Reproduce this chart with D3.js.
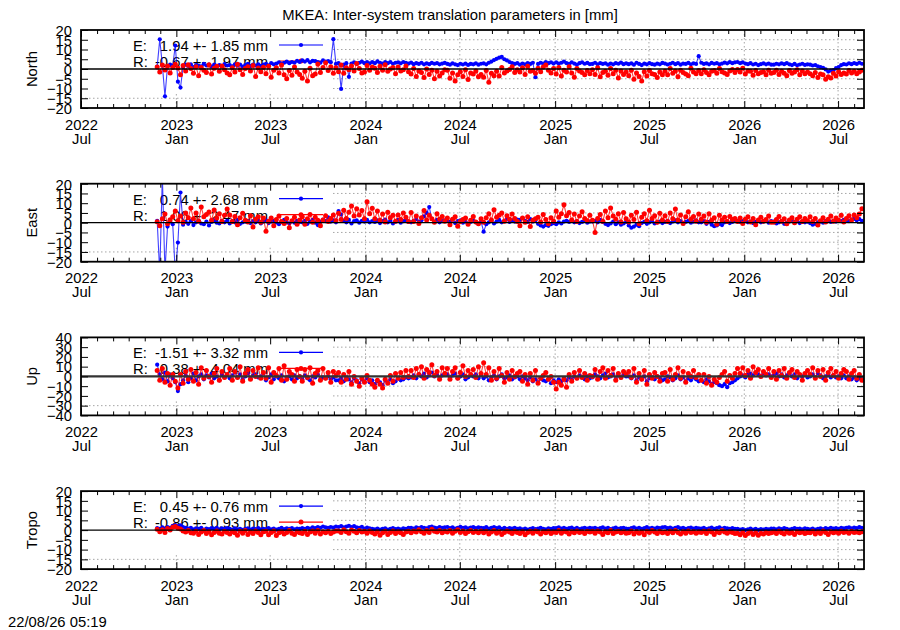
<!DOCTYPE html>
<html>
<head>
<meta charset="utf-8">
<script src="https://cdn.jsdelivr.net/npm/d3@7"></script>
<style>
    body { margin: 0; background: #fff; }
    svg text { font-family: "Liberation Sans", Arial, Helvetica, sans-serif; font-size: 14.8px; fill: #000; }
</style>
</head>
<body>
<div id="chart"></div>
<script>

// One solution every 5 days, first epoch below
const firstEpoch = "2022-11-25";
const stepDays = 5;
const xDomain = ["2022-07-01", "2026-08-20"];

// North [mm]
const northE = [
    1.2, 15.2, 2.0, -14.0, 1.5, 2.2, 1.8, 12.0, -6.5, -9.5, 1.0, 2.2, 1.6, 2.4,
    1.0, 2.0, 1.6, 1.4, 2.6, 1.8, 2.2, 1.2, 2.2, 1.6, 2.0, 1.4, 2.5, 1.8,
    2.0, 1.4, 2.4, 1.7, 2.2, 1.2, 2.0, 2.6, 1.5, 2.2, 1.8, 2.4, 1.6, 2.2,
    2.6, 1.9, 3.0, 2.4, 2.8, 3.4, 2.8, 3.2, 3.8, 3.0, 3.6, 3.2, 4.2, 3.6,
    4.4, 3.8, 4.6, 3.4, 4.2, 4.0, 3.6, 3.2, 4.4, 3.8, 4.0, 3.5, 15.3, 2.6,
    3.0, -10.2, 2.2, 3.0, -4.0, 2.8, 3.4, 2.6, 3.2, 3.8, 3.0, 3.5, 2.9, 3.6,
    3.0, 3.9, 3.2, 2.8, 3.5, 3.0, 3.6, 2.7, 3.2, 3.4, 2.9, 3.6, 3.1, 2.8,
    3.3, 2.5, 3.0, 2.6, 3.2, 2.4, 2.9, 2.5, 3.1, 2.7, 3.0, 2.4, 2.8, 3.1,
    2.6, 2.2, 2.9, 2.4, 2.0, 2.7, 2.3, 2.8, 2.1, 2.6, 2.4, 2.9, 2.2, 2.7,
    2.9, 2.4, 3.2, 3.8, 4.6, 5.2, 5.8, 6.2, 5.0, 4.4, 3.6, 3.0, 2.6, 3.0,
    2.2, 2.8, 2.4, 3.0, 2.6, 3.2, -4.2, 2.6, 3.2, 2.8, 3.6, 3.0, 3.4, 2.8,
    3.4, 2.8, 3.2, 3.8, 3.0, 2.6, 3.4, 2.8, 2.2, 3.0, 3.4, 2.7, 3.1, 2.5,
    2.6, 3.2, 2.4, 3.0, 2.6, 2.9, 2.2, 2.8, 2.4, 3.0, 2.7, 3.3, 2.5, 2.9,
    2.5, 2.9, 2.2, 3.2, 2.6, 2.0, 2.8, 2.4, 3.0, 2.5, 2.2, 2.8, 2.4, 3.1,
    2.8, 2.3, 2.7, 3.2, 2.5, 3.0, 2.2, 2.8, 2.6, 3.1, 2.4, 2.9, 2.6, 6.6,
    3.2, 2.6, 2.9, 2.4, 3.1, 2.7, 3.0, 2.4, 2.8, 3.3, 2.9, 3.5, 3.0, 3.4,
    3.6, 3.0, 3.4, 2.8, 2.5, 3.0, 2.3, 2.7, 2.0, 2.5, 2.9, 2.4, 2.8, 2.2,
    2.2, 2.7, 2.4, 2.9, 2.5, 3.0, 2.4, 2.0, 2.6, 1.9, 2.3, 2.7, 2.1, 2.4,
    2.2, 1.8, 2.0, 1.4, 1.0, 0.6, -0.2, -1.3, -0.8, -0.6, 0.4, 1.0, 2.0, 2.5,
    2.3, 2.9, 2.5, 3.0, 2.6, 3.2, 2.7
];
const northR = [
    1.0, -1.5, 2.0, -0.5, 1.5, -2.0, 0.8, 2.5, 0.5, -3.0, 1.8, -1.0, 2.2, 0.2,
    -2.2, 1.2, -3.5, 0.8, -0.6, -1.8, 2.2, -2.6, 0.4, 1.4, -1.2, 1.6, -0.4, -2.0,
    -3.0, 0.6, -1.6, 2.4, -0.4, -2.8, 0.2, 1.2, -1.0, 1.8, -3.8, 0.5, -1.4, 0.9,
    -2.4, 1.4, -4.2, -0.6, 0.6, -2.0, 2.0, -3.0, -5.0, -0.8, -3.2, 1.0, -1.6, -2.8,
    -4.8, -1.2, -6.2, 0.4, -3.4, -2.6, 2.6, -1.8, 0.8, 3.2, -0.8, 1.2, -2.2, 0.6,
    -1.4, 2.0, -2.2, 0.6, -0.4, 1.6, -1.0, 2.8, 0.2, -2.0, -1.6, 1.8, -0.6, 1.0,
    0.4, -1.8, 1.4, -0.6, 2.2, -1.2, 0.0, 0.8, -2.4, 1.0, -1.0, -0.4, 1.6, -1.4,
    -2.6, 0.2, -3.8, -1.0, -1.8, -4.4, 0.0, -2.8, -0.6, -5.0, -1.2, -3.6, -2.0, -0.4,
    -0.6, -4.8, -2.0, -6.2, -3.0, -1.4, -3.8, -0.4, -5.4, -2.0, -2.6, -1.0, -4.0, -2.8,
    -4.2, -0.8, -6.8, -2.2, -3.4, -1.2, -3.6, 0.8, -2.0, -1.0, -0.2, 1.2, -1.8, -0.4,
    -1.6, 0.6, -2.8, 1.4, -1.2, -0.8, -2.2, 0.4, -1.4, 1.0, 2.0, -0.6, -2.0, 0.2,
    -2.6, 0.8, -3.6, -0.6, -1.6, 1.2, -2.0, -4.2, 0.2, -1.0, -1.8, -3.0, -0.8, -2.4,
    -0.4, -2.8, 0.6, -4.0, -1.8, -1.2, -3.2, 0.2, -2.4, -0.6, -4.6, -1.0, -2.8, -1.6,
    -3.4, -0.6, -5.2, -2.0, -3.8, -6.2, -1.4, -3.6, -0.8, -2.4, -2.8, -4.4, -1.6, -3.0,
    -1.2, -3.0, 0.2, -2.2, -1.0, -4.0, -0.6, -1.8, -2.6, -3.4, 0.4, -1.6, -2.4, -0.8,
    -2.4, -0.4, -1.8, -3.0, -1.2, -0.8, -2.2, 0.2, -1.4, -2.0, -2.8, -1.0, -0.2, -1.8,
    -0.2, -1.6, 0.4, -2.6, -1.0, -1.2, -3.2, -0.8, -2.4, -1.8, -1.4, -3.0, -0.6, -2.2,
    -1.8, -0.6, -2.8, -1.2, -2.2, -3.4, -0.8, -2.2, -1.6, -0.4, -3.0, -1.0, -2.4, -1.6,
    -2.4, -3.4, -1.8, -4.4, -2.6, -3.0, -5.2, -4.0, -4.6, -2.2, -3.6, -1.4, -2.8, -2.0,
    -2.6, -0.8, -2.0, -1.2, -2.4, -1.6, -0.6
];

// East [mm]
const eastE = [
    1.0, -26, 24, -25, -2.0, 0.6, -0.8, -26, -10.2, 15.5, -1.0, 0.4, -0.6, 0.8,
    -1.2, 0.2, 1.0, -0.4, -0.8, 0.6, -1.4, 0.4, 1.2, 0.0, -0.4, 0.8, 0.2, 1.0,
    -0.4, 0.8, 0.2, 1.4, -0.6, 0.2, 0.6, 1.0, -0.2, 0.8, 0.2, 1.2, -0.4, 0.6,
    1.2, -0.2, 0.6, 1.0, 0.2, -0.8, 0.4, 1.4, 0.2, -0.4, 0.8, 0.0, 1.0, 0.4,
    0.2, 1.0, -0.6, 0.6, 1.4, 0.0, -1.2, 0.4, 1.6, 0.8, 2.8, 0.6, 1.2, 0.2,
    6.0, 4.2, 1.0, 0.2, 1.4, -0.4, 0.8, 1.2, 0.0, 1.0, 0.6, 1.4, 0.2, 0.8,
    0.4, 1.2, -0.2, 0.8, 1.6, 0.2, 1.0, -0.4, 0.6, 1.4, 0.0, 0.8, 1.2, 0.4,
    0.2, 1.0, 1.8, 0.4, 1.2, 3.2, 5.0, 8.0, 2.0, 0.6, 1.4, 0.2, 0.8, 1.2,
    1.0, 0.4, 1.6, -0.2, 0.8, 1.2, 0.0, 0.6, -0.6, 0.4, 1.0, 0.2, -0.4, 0.6,
    -4.6, -0.8, 0.2, 1.0, -0.4, 0.6, 1.4, 0.2, 1.0, 2.0, 0.4, 1.2, 0.6, 1.6,
    1.4, 2.4, 1.0, 0.4, 1.8, 0.6, 1.2, -0.6, -1.4, -2.0, -1.2, -1.6, -0.8, -0.2,
    -0.8, 0.2, -0.4, 0.6, 1.0, 0.4, 1.2, 0.2, 0.8, -0.2, 0.4, 1.0, 0.0, 0.6,
    0.6, 1.0, 0.2, 1.4, 0.4, -0.6, -1.2, -0.4, 0.6, -0.8, 0.2, -1.0, -0.4, 0.4,
    -1.4, -2.6, -2.0, -1.0, -1.8, -0.2, 0.4, -0.6, 0.2, 0.8, -0.4, 0.2, 0.6, -0.2,
    0.4, 1.0, -0.2, 0.6, 1.2, 0.2, 0.8, -0.4, 0.4, 1.0, 0.0, 0.6, 1.2, 0.2,
    0.2, 0.8, -0.6, 0.4, -1.0, -1.8, -1.4, -0.6, -1.2, 0.2, 0.6, -0.2, 0.4, 0.8,
    1.0, 0.4, 0.8, 1.2, 0.2, 0.6, -0.2, 0.4, 1.0, 0.2, 0.6, 1.2, 0.0, 0.8,
    0.6, -0.4, 0.2, 0.8, -0.6, 0.0, 0.6, 1.0, 0.4, 0.8, -0.2, 0.4, 0.2, 0.6,
    -0.2, -1.0, -0.6, 0.2, 0.6, 0.0, 0.8, 1.2, 0.4, 1.0, 0.6, 1.2, 0.8, 1.4,
    1.4, 0.8, 1.6, 2.0, 1.2, 1.8, 1.0
];
const eastR = [
    0.5, -1.5, 2.0, 4.5, -0.5, 1.5, 3.0, 6.0, 1.0, 3.5, 0.2, 5.0, 2.6, 7.5,
    2.0, 5.0, 0.8, 8.0, 3.0, 4.2, 5.5, 1.2, 6.5, 2.4, 4.6, 0.6, 3.8, 7.0,
    4.0, 0.6, 3.2, -1.0, 2.6, 4.8, 1.2, 0.4, 3.6, -2.2, 1.8, 3.0, 0.2, 2.4,
    -4.4, 0.8, 2.4, -1.6, 1.6, 3.4, 0.6, -0.4, 2.2, -2.6, 1.0, 2.8, -0.8, 1.4,
    3.0, -0.8, 2.0, 4.2, 0.2, 2.8, 1.2, -1.6, 1.4, 3.6, 0.6, 2.2, 4.0, 1.0,
    4.8, 1.6, 6.4, 2.2, 5.4, 8.6, 3.4, 7.2, 4.0, 6.2, 2.0, 10.8, 4.6, 7.4,
    2.0, 6.0, 1.2, 4.4, 0.4, 5.4, 2.6, 3.8, 0.8, 4.0, 1.6, 5.0, 2.8, 0.6,
    5.2, 0.6, 3.4, -0.4, 2.6, 6.2, 1.4, 3.8, 2.0, 0.2, 4.6, 1.8, 3.2, 0.8,
    2.4, -1.0, 1.8, 3.0, -1.8, 0.6, 1.6, 2.4, -0.8, 1.2, 3.2, 0.4, -0.6, 2.0,
    0.2, 2.6, 4.6, 1.4, 6.6, 2.8, 3.8, 5.0, 0.8, 3.6, 1.8, 4.4, 2.2, 0.6,
    -1.6, 2.4, 0.2, 3.0, -2.0, 1.2, 2.0, 2.8, 0.4, 4.2, 1.6, -0.6, 2.6, 0.8,
    6.0, 2.8, 4.6, 9.2, 3.6, 5.2, 1.4, 4.4, 0.6, 3.4, 5.6, 2.2, 1.0, 3.8,
    1.2, -5.0, 2.2, 4.2, 0.8, 6.0, 2.6, 7.6, 3.4, 1.8, 4.6, 0.4, 5.2, 2.0,
    0.4, 3.8, 1.6, 5.4, -0.6, 2.8, 4.6, 1.0, 6.4, 2.2, 3.6, 0.2, 4.8, 1.4,
    3.6, 0.6, 5.0, 2.0, 7.0, 1.4, 4.0, -0.4, 3.0, 5.6, 1.8, 3.2, 0.8, 4.4,
    1.8, 3.4, 0.2, 4.6, 1.2, 2.6, -0.8, 3.8, 1.4, 2.8, 0.6, 3.2, 1.6, 2.2,
    0.6, 2.4, -0.4, 1.8, 3.0, 0.4, 2.2, -1.0, 1.4, 2.8, 0.8, 1.6, 3.4, 0.2,
    0.2, 1.6, 3.2, 0.8, 2.0, -0.6, 1.4, 2.6, 0.0, 1.8, 3.0, 0.6, 2.2, 1.0,
    3.0, 0.6, 2.2, -1.2, 1.0, 2.6, 0.4, 1.8, 3.4, 0.8, 2.4, 1.2, 3.8, 0.4,
    2.2, 3.6, 1.4, 4.0, 2.6, 4.4, 7.2
];

// Up [mm]
const upE = [
    12, 2, -3, 4, -5, 1, -2, -6, -15, -8, -4, 1, -6, -2,
    3, -4, 0, 2, -3, 1, -1, 3, -2, 0, -4, 2, -1, 1,
    -2, 1, 4, -1, 2, -3, 0, 3, -2, 1, 2, -1, 0, 3,
    -4, -1, 2, -3, 0, -2, 1, -5, -1, 0, -3, 1, -2, 0,
    -3, 1, -2, -4, 0, -1, 2, -3, -1, -2, 0, -3, -1, -4,
    -4, -2, -5, -1, -3, -6, -2, -4, -7, -3, -5, -2, -6, -4,
    -8, -5, -6, -9, -4, -6, -3, -7, -5, -2, -4, -3, -1, -2,
    -1, 1, -2, 2, 0, 3, -1, 1, 4, 0, 2, -1, 1, 3,
    2, -1, 1, 3, -2, 0, 2, -3, -1, 1, 0, 2, -2, 1,
    -2, 0, -4, -1, 1, -3, 0, 2, -2, -1, 1, -3, -1, 0,
    -3, 0, -2, -4, -1, -5, -3, -6, -2, -4, -5, -3, -7, -4,
    -6, -3, -5, -2, -4, -1, -3, 0, -2, 1, -1, -3, 0, -2,
    -1, 2, 0, -2, 1, 3, -1, 0, 2, -3, 1, -1, 2, 0,
    0, -2, 1, -4, -1, -3, 0, -5, -2, -1, -3, 0, -2, -4,
    -3, 0, -1, -4, -2, 1, -3, -1, -5, -2, -4, -1, -3, -5,
    -4, -6, -3, -5, -8, -6, -7, -9, -10, -8, -11, -7, -6, -4,
    -2, 0, 1, -1, 2, 3, 1, 4, 2, 0, 3, 1, 2, 0,
    1, 3, 0, 2, -1, 1, 3, 0, 2, -2, 1, 0, 2, -1,
    0, 2, -1, 3, 1, -2, 0, 2, -1, 1, -1, 0, -2, 1,
    -2, 0, -3, -1, -4, -2, -3
];
const upR = [
    6, -4, 8, -6, 3, -9, 2, -5, -12, 2, -7, 5, -3, 7,
    -5, 4, -8, 9, -2, 6, 0, -6, 3, 8, -4, 5, -1, 2,
    8, -4, 5, -1, 10, -5, 3, 7, -3, 6, 0, 9, -2, 4,
    -2, 9, -6, 4, 1, 8, -4, 11, -3, 5, 2, -5, 7, 0,
    -5, 7, -1, 9, -7, 3, 6, -4, 8, -2, 4, -6, 5, 1,
    4, -6, 2, -3, 5, -8, 0, -5, -10, -2, -6, 1, -4, -8,
    -11, -4, -8, -12, -3, -7, 1, -5, 3, -2, 4, -1, 6, 0,
    6, -1, 8, 2, 10, -2, 7, 4, 12, 1, 5, -3, 9, 3,
    8, -3, 5, 9, -2, 4, 11, 0, 6, 2, 7, -1, 10, 3,
    14, 2, 9, -4, 5, -2, 8, 1, -6, 4, -3, 6, 0, 3,
    5, -5, 2, -8, 3, -4, 6, -7, -2, 1, 4, -3, 0, -6,
    -13, -6, -9, -3, -11, 2, -5, 4, -2, 6, -1, 3, -4, 1,
    0, 7, -3, 5, 9, -2, 6, 1, 8, -4, 3, -1, 5, 2,
    5, -1, 8, -6, 3, -3, 6, -8, 2, -2, 4, 0, -5, 3,
    4, -5, 7, -3, 2, 9, -2, 5, -6, 3, 0, 6, -1, 2,
    -4, 2, -7, 0, -9, -3, -6, -1, 2, 5, -5, 1, -2, 3,
    8, 3, 9, 1, 6, -2, 10, 4, 7, 0, 5, 2, 8, -1,
    5, -3, 6, 1, 8, -2, 4, 7, -1, 5, 2, -4, 3, 6,
    2, 9, -2, 6, 0, 7, -4, 4, 8, 1, 5, -2, 3, 7,
    5, -3, 3, 6, -2, 2, -4
];

// Tropo [mm]
const tropoE = [
    1.0, 0.6, 1.4, 0.8, 1.6, 1.2, 2.2, 2.6, 2.0, 2.4, 1.6, 1.2, 0.8, 1.2,
    0.4, 0.9, 0.6, 1.1, 0.3, 0.8, 0.5, 1.0, 0.7, 1.2, 0.4, 0.9, 0.6, 1.0,
    0.6, 0.2, 0.9, 0.4, 0.7, 0.1, 0.6, 0.9, 0.3, 0.8, 0.5, 1.0, 0.4, 0.7,
    0.5, 1.0, 0.4, 0.8, 0.2, 0.7, 1.1, 0.5, 0.9, 0.6, 1.0, 0.4, 0.8, 0.6,
    1.0, 0.6, 1.2, 0.8, 1.4, 1.0, 1.6, 1.2, 1.8, 1.4, 1.2, 1.6, 1.3, 1.8,
    1.6, 2.0, 1.4, 1.8, 2.2, 1.6, 2.0, 1.4, 1.2, 1.7, 0.8, 1.3, 0.9, 0.6,
    0.4, 0.8, 0.2, 0.6, 0.9, 0.3, 0.7, 1.0, 0.5, 0.8, 0.4, 0.9, 0.6, 1.1,
    1.2, 0.8, 1.4, 1.0, 1.6, 1.2, 0.9, 1.5, 1.8, 1.3, 1.0, 1.6, 1.2, 1.4,
    1.6, 1.0, 1.4, 0.8, 1.2, 1.7, 1.1, 1.4, 0.9, 1.3, 1.5, 1.0, 1.4, 1.1,
    1.0, 1.5, 0.8, 1.2, 1.6, 1.0, 1.4, 0.7, 1.1, 0.6, 1.0, 0.8, 1.2, 0.7,
    0.9, 0.4, 0.8, 0.2, 0.6, 1.0, 0.5, 0.8, 1.2, 0.7, 0.4, 0.9, 0.6, 1.0,
    1.0, 1.4, 0.8, 1.2, 0.6, 1.0, 1.3, 0.7, 1.1, 0.5, 0.9, 1.2, 0.8, 1.1,
    0.9, 1.2, 0.6, 1.0, 1.4, 0.8, 1.1, 0.5, 0.9, 1.3, 0.7, 1.0, 1.2, 0.8,
    0.7, 1.0, 1.4, 0.8, 1.2, 0.6, 1.0, 1.5, 0.9, 1.2, 0.8, 1.3, 1.0, 1.4,
    1.6, 1.0, 1.3, 0.8, 1.1, 1.5, 0.9, 1.2, 0.6, 1.0, 1.3, 0.8, 1.1, 0.9,
    0.8, 1.2, 0.5, 0.9, 1.3, 0.7, 1.0, 1.4, 0.8, 1.1, 0.9, 0.6, 1.0, 0.7,
    0.6, 0.2, 0.5, 0.0, 0.4, 0.8, 0.3, 0.6, 0.1, 0.5, 0.3, 0.7, 0.4, 0.8,
    0.8, 0.4, 0.9, 0.5, 1.0, 0.6, 0.3, 0.7, 1.0, 0.6, 0.8, 0.4, 0.9, 0.6,
    0.4, 0.8, 0.2, 0.6, 0.9, 0.5, 1.0, 0.7, 1.2, 0.8, 1.0, 0.6, 1.1, 0.9,
    1.1, 1.4, 0.9, 1.3, 1.0, 1.5, 1.2
];
const tropoR = [
    0.4, -0.8, 0.2, -1.2, 0.8, 0.0, 1.4, 1.8, 1.0, 0.6, -0.4, -1.0, -0.2, -1.4,
    -1.6, -0.6, -2.2, -1.0, -0.2, -1.8, -0.8, -2.4, -1.2, -0.4, -1.6, -2.0, -0.6, -1.2,
    -2.0, -0.8, -1.4, -2.6, -0.6, -1.6, -0.2, -2.2, -1.0, -1.8, -0.4, -1.2, -2.4, -0.8,
    -0.6, -2.4, -1.2, -0.4, -2.8, -1.4, -0.8, -2.0, -1.2, -0.2, -1.6, -2.2, -0.8, -1.4,
    -1.8, -0.6, -2.2, -1.0, -0.4, -1.6, -0.2, -2.0, -0.8, -1.4, -0.6, -1.8, -1.0, -0.4,
    -0.4, -1.2, 0.2, -0.8, -1.6, 0.0, -0.6, -1.4, -0.2, -1.0, -0.6, -1.6, -0.4, -1.2,
    -2.0, -1.0, -2.6, -1.4, -0.6, -2.2, -1.2, -0.4, -1.8, -0.8, -1.4, -2.2, -1.0, -0.6,
    -1.4, -0.4, -1.0, 0.2, -0.8, -1.6, -0.2, -1.2, 0.4, -0.6, -1.0, -0.2, -1.4, -0.6,
    -1.0, -0.2, -1.6, -0.6, 0.2, -1.2, -0.4, -1.8, -0.8, -0.2, -1.2, -0.6, -1.4, -0.4,
    -1.4, -0.6, -2.0, -1.0, -0.2, -1.6, -0.8, -2.2, -1.2, -0.4, -1.0, -1.8, -0.6, -1.2,
    -1.8, -0.8, -2.4, -1.2, -0.6, -1.6, -0.4, -1.0, -2.0, -0.8, -1.4, -0.6, -1.8, -1.0,
    -1.2, -0.2, -1.6, -0.6, -1.0, -2.0, -0.8, -1.4, -0.4, -1.2, -0.8, -1.8, -0.6, -1.0,
    -0.6, -1.6, -0.4, -1.0, -2.2, -0.8, -1.4, -0.2, -1.8, -1.0, -0.6, -1.4, -0.8, -1.6,
    -1.4, -0.4, -2.0, -0.8, -1.6, -1.0, -2.4, -0.6, -1.2, -0.2, -1.0, -1.8, -0.6, -1.4,
    -1.0, -1.8, -0.6, -1.4, -0.2, -1.2, -2.0, -0.8, -1.6, -0.4, -1.2, -0.8, -1.6, -1.0,
    -1.2, -0.6, -1.8, -0.4, -1.0, -2.2, -0.8, -1.4, -0.2, -1.0, -1.6, -0.8, -1.2, -1.8,
    -1.6, -2.4, -1.2, -2.8, -1.8, -1.0, -2.2, -1.4, -2.6, -1.6, -2.0, -1.2, -1.8, -1.4,
    -1.0, -1.8, -0.6, -1.4, -2.0, -0.8, -1.6, -1.2, -2.2, -0.8, -1.4, -1.0, -1.8, -1.2,
    -1.4, -0.6, -2.0, -1.0, -1.8, -0.4, -1.2, -2.2, -0.8, -1.4, -1.0, -1.6, -0.6, -1.2,
    -0.8, -1.6, -0.6, -1.2, -1.0, -1.4, -0.8
];

// Panel labels, y ticks and key statistics
const panelNames = ["North", "East", "Up", "Tropo"];
const ticks20 = [-20, -15, -10, -5, 0, 5, 10, 15, 20];
const ticks40 = [-40, -30, -20, -10, 0, 10, 20, 30, 40];
const keyE = ["1.94 +- 1.85 mm", "0.74 +- 2.68 mm", "-1.51 +- 3.32 mm", "0.45 +- 0.76 mm"];
const keyR = ["-0.67 +- 1.97 mm", "1.06 +- 2.47 mm", "0.38 +- 4.04 mm", "-0.86 +- 0.93 mm"];

const parseDay = d3.utcParse("%Y-%m-%d");
const epoch0 = parseDay(firstEpoch);


class TranslationPanel {

    constructor(svg, index, name, yTicks, valuesE, valuesR, labelE, labelR) {
        this.svg = svg;
        this.index = index;
        this.name = name;
        this.yTicks = yTicks;
        this.valuesE = valuesE;
        this.valuesR = valuesR;
        this.labelE = labelE;
        this.labelR = labelR;

        this.colorE = '#0000ff';
        this.colorR = '#ff0000';
        this.radiusE = 2.1;
        this.radiusR = 2.5;

        this.initVis();
    }

    initVis() {
        let vis = this;

        // plot frame
        vis.left = 81;
        vis.right = 864;
        vis.height = 78;
        vis.top = 30 + vis.index * 153.7;
        vis.bottom = vis.top + vis.height;

        vis.x = d3.scaleUtc()
            .domain(xDomain.map(parseDay))
            .range([vis.left, vis.right]);

        vis.y = d3.scaleLinear()
            .domain([vis.yTicks[0], vis.yTicks[vis.yTicks.length - 1]])
            .range([vis.bottom, vis.top]);

        vis.majorTicks = d3.utcMonth.every(6).range(vis.x.domain()[0], d3.utcDay.offset(vis.x.domain()[1], 1));
        vis.minorTicks = d3.utcMonth.range(vis.x.domain()[0], vis.x.domain()[1])
            .filter(d => d.getUTCMonth() % 6 !== 0);

        vis.g = vis.svg.append('g').attr('class', 'panel panel-' + vis.name);

        vis.svg.append('clipPath')
            .attr('id', 'clip' + vis.index)
            .append('rect')
            .attr('x', vis.left)
            .attr('y', vis.top)
            .attr('width', vis.right - vis.left)
            .attr('height', vis.height);

        vis.wrangleData();
    }

    wrangleData() {
        let vis = this;

        vis.dataE = vis.valuesE.map((v, i) => ({date: d3.utcDay.offset(epoch0, i * stepDays), value: v}));
        vis.dataR = vis.valuesR.map((v, i) => ({date: d3.utcDay.offset(epoch0, i * stepDays), value: v}));

        vis.updateVis();
    }

    updateVis() {
        let vis = this;
        let yMin = vis.yTicks[0], yMax = vis.yTicks[vis.yTicks.length - 1];

        // dotted grid
        let grid = vis.g.append('g').attr('class', 'grid')
            .attr('stroke', '#a6a6a6')
            .attr('stroke-width', 1)
            .attr('stroke-dasharray', '1.5,2.5');

        grid.selectAll('.hgrid')
            .data(vis.yTicks.filter(t => t > yMin && t < yMax && t !== 0))
            .join('line')
            .attr('class', 'hgrid')
            .attr('x1', vis.left)
            .attr('x2', vis.right)
            .attr('y1', d => vis.y(d))
            .attr('y2', d => vis.y(d));

        grid.selectAll('.vgrid')
            .data(vis.majorTicks.filter(d => vis.x(d) > vis.left + 1 && vis.x(d) < vis.right - 1))
            .join('line')
            .attr('class', 'vgrid')
            .attr('x1', d => vis.x(d))
            .attr('x2', d => vis.x(d))
            .attr('y1', vis.top)
            .attr('y2', vis.bottom);

        // opaque key box
        vis.g.append('rect')
            .attr('x', vis.left + 1)
            .attr('y', vis.top + 1)
            .attr('width', 251)
            .attr('height', 62)
            .attr('fill', '#fff');

        // key entries
        let keyRows = [
            {tag: 'E:', label: vis.labelE, color: vis.colorE, r: vis.radiusE},
            {tag: 'R:', label: vis.labelR, color: vis.colorR, r: vis.radiusR}
        ];
        let key = vis.g.append('g').attr('class', 'key');
        keyRows.forEach((row, i) => {
            let yy = vis.top + 21 + i * 16;
            key.append('text').attr('x', 133).attr('y', yy).text(row.tag);
            key.append('text').attr('x', 268).attr('y', yy).attr('text-anchor', 'end').text(row.label);
            key.append('line')
                .attr('x1', 279).attr('x2', 323)
                .attr('y1', yy - 6).attr('y2', yy - 6)
                .attr('stroke', row.color)
                .attr('stroke-width', 1.2);
            key.append('circle')
                .attr('cx', 301).attr('cy', yy - 6)
                .attr('r', row.r)
                .attr('fill', row.color);
        });

        // series, clipped to frame
        let line = d3.line()
            .x(d => vis.x(d.date))
            .y(d => vis.y(d.value));

        let plot = vis.g.append('g').attr('clip-path', 'url(#clip' + vis.index + ')');

        [{data: vis.dataE, color: vis.colorE, r: vis.radiusE}, {data: vis.dataR, color: vis.colorR, r: vis.radiusR}]
            .forEach(s => {
                plot.append('path')
                    .datum(s.data)
                    .attr('d', line)
                    .attr('fill', 'none')
                    .attr('stroke', s.color)
                    .attr('stroke-opacity', 0.75)
                    .attr('stroke-width', 1.1);

                plot.append('g')
                    .selectAll('circle')
                    .data(s.data)
                    .join('circle')
                    .attr('cx', d => vis.x(d.date))
                    .attr('cy', d => vis.y(d.value))
                    .attr('r', s.r)
                    .attr('fill', s.color);
            });

        // zero line
        vis.g.append('line')
            .attr('x1', vis.left)
            .attr('x2', vis.right)
            .attr('y1', vis.y(0))
            .attr('y2', vis.y(0))
            .attr('stroke', vis.name === 'Up' ? '#333' : '#000')
            .attr('stroke-width', vis.name === 'Up' ? 2.2 : 1.3);

        // axes, ticks point inwards
        let bottomAxis = vis.g.append('g')
            .attr('transform', `translate(0, ${vis.bottom})`)
            .call(d3.axisBottom(vis.x).tickValues(vis.majorTicks).tickSize(-7));
        bottomAxis.selectAll('.tick text').each(function(d) {
            let t = d3.select(this).attr('dy', null).attr('y', null).text(null);
            t.append('tspan').attr('x', 0).attr('y', 21.5).text(d3.utcFormat('%Y')(d));
            t.append('tspan').attr('x', 0).attr('y', 35.5).text(d3.utcFormat('%b')(d));
        });

        vis.g.append('g')
            .attr('transform', `translate(0, ${vis.bottom})`)
            .call(d3.axisBottom(vis.x).tickValues(vis.minorTicks).tickSize(-4).tickFormat(''));

        vis.g.append('g')
            .attr('transform', `translate(0, ${vis.top})`)
            .call(d3.axisTop(vis.x).tickValues(vis.majorTicks).tickSize(-7).tickFormat(''));

        vis.g.append('g')
            .attr('transform', `translate(0, ${vis.top})`)
            .call(d3.axisTop(vis.x).tickValues(vis.minorTicks).tickSize(-4).tickFormat(''));

        vis.g.append('g')
            .attr('transform', `translate(${vis.left}, 0)`)
            .call(d3.axisLeft(vis.y).tickValues(vis.yTicks).tickSize(-7).tickPadding(9))
            .selectAll('.tick text').attr('dy', '0.36em');

        vis.g.append('g')
            .attr('transform', `translate(${vis.right}, 0)`)
            .call(d3.axisRight(vis.y).tickValues(vis.yTicks).tickSize(-7).tickFormat(''));

        vis.g.selectAll('.domain').remove();
        vis.g.selectAll('.tick line').attr('stroke', '#000');
        vis.g.selectAll('.tick text').attr('font-size', null).attr('font-family', null);

        // frame
        vis.g.append('rect')
            .attr('x', vis.left)
            .attr('y', vis.top)
            .attr('width', vis.right - vis.left)
            .attr('height', vis.height)
            .attr('fill', 'none')
            .attr('stroke', '#000')
            .attr('stroke-width', 1.8);

        // y label
        vis.g.append('text')
            .attr('transform', `translate(36.5, ${vis.top + vis.height / 2}) rotate(-90)`)
            .attr('text-anchor', 'middle')
            .text(vis.name);
    }
}


let svg = d3.select('#chart').append('svg')
    .attr('width', 900)
    .attr('height', 630);

svg.append('rect').attr('width', 900).attr('height', 630).attr('fill', '#fff');

svg.append('text')
    .attr('x', 450)
    .attr('y', 19.5)
    .attr('text-anchor', 'middle')
    .text('MKEA: Inter-system translation parameters in [mm]');

let seriesE = [northE, eastE, upE, tropoE];
let seriesR = [northR, eastR, upR, tropoR];

let panels = panelNames.map((name, i) =>
    new TranslationPanel(svg, i, name, name === 'Up' ? ticks40 : ticks20, seriesE[i], seriesR[i], keyE[i], keyR[i]));

svg.append('text')
    .attr('x', 8)
    .attr('y', 627)
    .text('22/08/26 05:19');

</script>
</body>
</html>
